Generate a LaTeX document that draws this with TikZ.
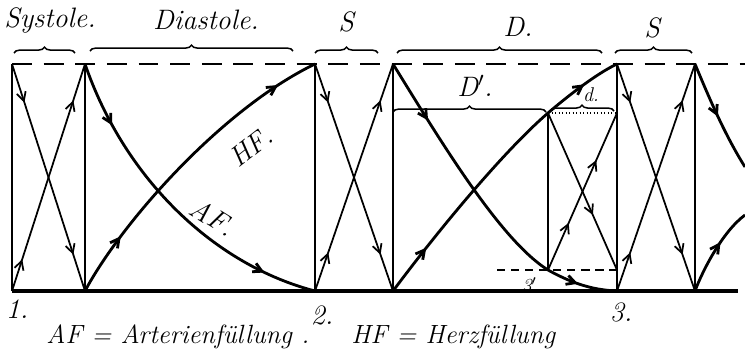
\documentclass[tikz,border=0pt]{standalone}
\usepackage{fontspec}
\usetikzlibrary{arrows.meta,decorations.markings,decorations.pathreplacing}
\tikzset{
  thinline/.style={line width=1.5pt},
  thickline/.style={line width=2.5pt},
  curveline/.style={line width=2.4pt},
  groundline/.style={line width=3pt},
  dashline/.style={line width=1.6pt, dash pattern=on 17pt off 10pt},
  arrowsat/.style 2 args={postaction={decorate}, decoration={markings,
      mark=at position #1 with {\arrow{Straight Barb[length=2.6mm,width=2.8mm]}},
      mark=at position #2 with {\arrow{Straight Barb[length=2.6mm,width=2.8mm]}}}},
  arrowat/.style={postaction={decorate}, decoration={markings,
      mark=at position #1 with {\arrow{Straight Barb[length=2.6mm,width=2.8mm]}}}},
  bracetop/.style={decorate, decoration={brace, amplitude=5pt}, line width=1.3pt},
  hand/.style={font=\fontsize{24}{26}\selectfont\itshape, inner sep=1pt},
  smallhand/.style={font=\fontsize{17}{18}\selectfont\itshape, inner sep=1pt},
  bighand/.style={font=\fontsize{22.5}{24}\selectfont\itshape, inner sep=1pt}
}
\begin{document}
\begin{tikzpicture}[x=0.03cm,y=-0.03cm]
\useasboundingbox (0,0) rectangle (745,362);
% points on the upper and lower line
\coordinate (t1) at (12,64);
\coordinate (t2) at (85,64);
\coordinate (t3) at (315,64);
\coordinate (t4) at (393,64);
\coordinate (t6) at (617,64);
\coordinate (t7) at (695,64);
\coordinate (e1) at (745,64);
\coordinate (b1) at (12,291);
\coordinate (b2) at (85,291);
\coordinate (b3) at (315,291);
\coordinate (b4) at (393,291);
\coordinate (b6) at (617,291);
\coordinate (b7) at (695,291);
\coordinate (e2) at (738,291);
% inner points of D
\coordinate (p1) at (548,113);
\coordinate (q1) at (548,270);
\coordinate (r1) at (617,113);
\coordinate (r2) at (617,270);
\coordinate (s1) at (497,270);
\coordinate (af3) at (745,167);
\coordinate (hf3) at (745,215);

% frame
\draw[dashline] (t1) -- (e1);
\draw[groundline] (b1) -- (e2);
\draw[thickline] (t1) -- (b1);
\draw[thickline] (t2) -- (b2);
\draw[thinline] (t3) -- (b3);
\draw[thinline] (t4) -- (b4);
\draw[thinline] (t6) -- (b6);
\draw[thickline] (t7) -- (b7);
\draw[thinline] (p1) -- (q1);
\draw[line width=1pt, dotted] (p1) -- (r1);
\draw[line width=1pt, dash pattern=on 7pt off 5pt] (s1) -- (r2);

% systole crosses
\draw[thinline, arrowsat={0.17}{0.84}] (t1) -- (b2);
\draw[thinline, arrowsat={0.14}{0.84}] (b1) -- (t2);
\draw[thinline, arrowsat={0.17}{0.84}] (t3) -- (b4);
\draw[thinline, arrowsat={0.17}{0.84}] (b3) -- (t4);
\draw[thinline, arrowsat={0.17}{0.84}] (t6) -- (b7);
\draw[thinline, arrowsat={0.17}{0.84}] (b6) -- (t7);
\draw[thinline, arrowsat={0.3}{0.7}] (q1) -- (r1);
\draw[thinline, arrowat=0.65] (p1) -- (r2);

% diastole curves
\draw[curveline, arrowsat={0.2}{0.84}] (t2) .. controls (125,180) and (215,265) .. (b3);
\draw[curveline, arrowsat={0.2}{0.87}] (b2) .. controls (120,225) and (220,110) .. (t3);
\draw[curveline, arrowsat={0.2}{0.88}] (t4) .. controls (440,140) and (500,240) .. (q1)
  .. controls (575,285) and (595,290) .. (b6);
\draw[curveline, arrowsat={0.17}{0.88}] (b4) .. controls (440,228) and (505,150) .. (p1)
  .. controls (575,90) and (600,72) .. (t6);
\draw[curveline, arrowat=0.5] (t7) .. controls (710,100) and (725,135) .. (af3);
\draw[curveline, arrowat=0.6] (b7) .. controls (702,272) and (722,232) .. (hf3);

% braces
\draw[bracetop] (14,53) -- (75,53);
\draw[bracetop] (90,51) -- (293,51);
\draw[bracetop] (315,53) -- (378,53);
\draw[bracetop] (397,53) -- (602,53);
\draw[bracetop] (615,53) -- (692,53);
\draw[bracetop] (393,112) -- (546,112);
\draw[bracetop] (550,111) -- (614,111);

% texts
\node[hand] (systole) at (50,20) {Systole.};
\node[hand] (diastole) at (206,20) {Diastole.};
\node[hand] (s2) at (346,22) {S};
\node[hand] (d2) at (518,27) {D.};
\node[hand] (s3) at (652,28) {S};
\node[hand] (dstrich) at (475,86) {D$'$.};
\node[smallhand] (dklein) at (591,95) {d.};
\node[hand, rotate=38] (hf) at (251,147) {HF.};
\node[hand, rotate=-32] (af) at (213,217) {AF.};
\node[smallhand] (drei) at (532,285) {3$'$.};
\node[hand] (eins) at (17,309) {1.};
\node[hand] (zwei) at (322,315) {2.};
\node[hand] (dreib) at (621,312) {3.};
\node[bighand, anchor=west] (afkey) at (45,337) {AF = Arterienfüllung .};
\node[bighand, anchor=west] (hfkey) at (350,337) {HF = Herzfüllung};
\end{tikzpicture}
\end{document}
